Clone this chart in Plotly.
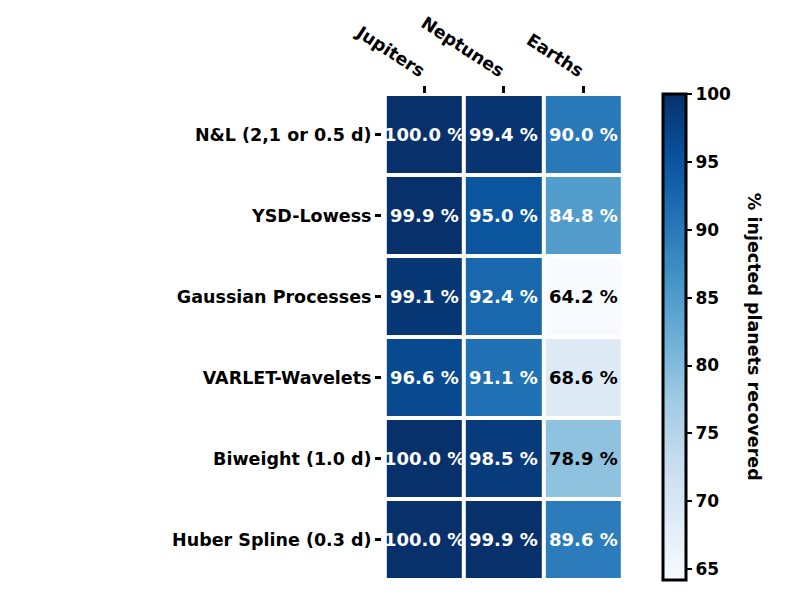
import plotly.graph_objects as go

# planet types (columns) and detrending methods (rows, top to bottom)
planets = ['Jupiters', 'Neptunes', 'Earths']
methods = ['N&L (2,1 or 0.5 d)', 'YSD-Lowess', 'Gaussian Processes',
           'VARLET-Wavelets', 'Biweight (1.0 d)', 'Huber Spline (0.3 d)']

jupiters = [100.0, 99.9, 99.1, 96.6, 100.0, 100.0]
neptunes = [99.4, 95.0, 92.4, 91.1, 98.5, 99.9]
earths = [90.0, 84.8, 64.2, 68.6, 78.9, 89.6]

z = [[j, n, e] for j, n, e in zip(jupiters, neptunes, earths)]
zmin, zmax = min(earths), 100.0

fig = go.Figure()
fig.add_trace(go.Heatmap(
    z=z, x=planets, y=methods,
    colorscale='Blues', zmin=zmin, zmax=zmax,
    xgap=4, ygap=4,
    colorbar=dict(
        x=1.124, xanchor='left', y=0.5, yanchor='middle',
        len=1.0, lenmode='fraction', thickness=23, ypad=0,
        outlinewidth=3, outlinecolor='black',
        tickvals=[65, 70, 75, 80, 85, 90, 95, 100], tickprefix=' ',
        ticks='outside', ticklen=5, tickwidth=2, tickcolor='black',
        tickfont=dict(family='DejaVu Sans', size=17, color='black', weight='bold'),
    ),
    hoverinfo='skip',
))

# value labels
for i, m in enumerate(methods):
    for k, p in enumerate(planets):
        v = z[i][k]
        fig.add_annotation(x=p, y=m, text='%.1f %%' % v, showarrow=False,
                           font=dict(family='DejaVu Sans', size=18, weight='bold',
                                     color='white' if v > 80 else 'black'))

# colorbar title
fig.add_annotation(xref='paper', yref='paper', x=1.594, y=0.5, text='% injected planets recovered',
                   textangle=90, showarrow=False,
                   font=dict(family='DejaVu Sans', size=17.5, color='black', weight='bold'))

fig.update_layout(
    width=800, height=600,
    margin=dict(l=374, r=185, t=86, b=28),
    plot_bgcolor='white', paper_bgcolor='white',
    font=dict(family='DejaVu Sans', color='black'),
    xaxis=dict(side='top', tickangle=33, ticks='outside', ticklen=7, tickwidth=3,
               tickcolor='black', showgrid=False, zeroline=False, automargin=False,
               tickfont=dict(size=17.5, weight='bold')),
    yaxis=dict(autorange='reversed', ticks='outside', ticklen=6, tickwidth=3,
               tickcolor='black', showgrid=False, zeroline=False, automargin=False,
               tickfont=dict(size=17.5, weight='bold')),
)

fig.write_html('out.html')
